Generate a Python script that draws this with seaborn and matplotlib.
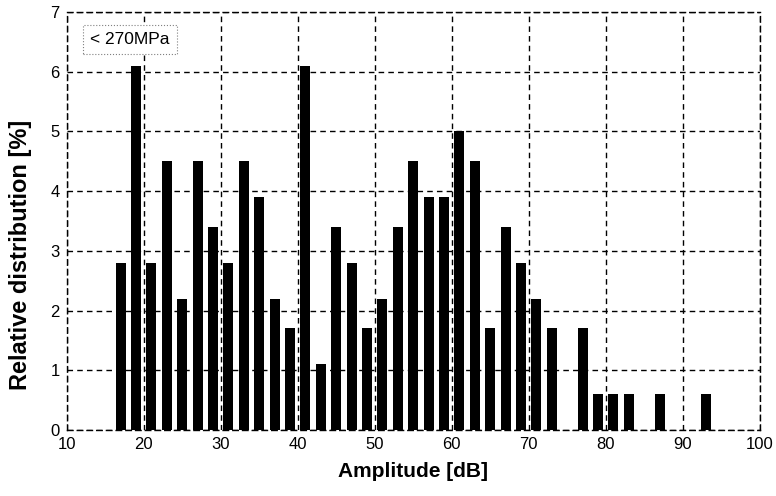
import matplotlib
matplotlib.use("Agg")
import matplotlib.pyplot as plt
import seaborn as sns
import pandas as pd

# amplitude bins [dB] and relative distribution [%]
amplitude = [17, 19, 21, 23, 25, 27, 29, 31, 33, 35, 37, 39, 41, 43, 45, 47, 49,
             51, 53, 55, 57, 59, 61, 63, 65, 67, 69, 71, 73, 75, 77, 79, 81, 83,
             85, 87, 89, 91, 93]
distribution = [2.8, 6.1, 2.8, 4.5, 2.2, 4.5, 3.4, 2.8, 4.5, 3.9, 2.2, 1.7, 6.1,
                1.1, 3.4, 2.8, 1.7, 2.2, 3.4, 4.5, 3.9, 3.9, 5.0, 4.5, 1.7, 3.4,
                2.8, 2.2, 1.7, 0.0, 1.7, 0.6, 0.6, 0.6, 0.0, 0.6, 0.0, 0.0, 0.6]
x_ticks = [10, 20, 30, 40, 50, 60, 70, 80, 90, 100]
y_ticks = [0, 1, 2, 3, 4, 5, 6, 7]
label_text = "< 270MPa"

df = pd.DataFrame({"amp": amplitude, "dist": distribution})

sns.set_style("white")
plt.rcParams['font.family'] = ['Liberation Sans', 'DejaVu Sans']
plt.rcParams['text.color'] = 'black'
plt.rcParams['axes.labelcolor'] = 'black'

fig = plt.figure(figsize=(7.76, 4.96), dpi=100)
ax = fig.add_axes([0.086, 0.133, 0.893, 0.843])

sns.barplot(data=df, x="amp", y="dist", native_scale=True, width=0.65,
            color="black", saturation=1, edgecolor="black", linewidth=0, ax=ax)

ax.set_xlim(10, 100)
ax.set_ylim(0, 7)
ax.set_xticks(x_ticks)
ax.set_yticks(y_ticks)
ax.tick_params(axis="both", direction="in", length=3, labelsize=12, colors="black", pad=5)

ax.grid(True, color="black", linestyle=(0, (4, 3)), linewidth=1.0)
ax.set_axisbelow(True)
for side in ["top", "right", "left", "bottom"]:
    ax.spines[side].set_visible(True)
    ax.spines[side].set_color("black")
    ax.spines[side].set_linestyle((0, (4, 3)))
    ax.spines[side].set_linewidth(1.0)

ax.set_xlabel("Amplitude [dB]", fontsize=15, fontweight="bold", labelpad=7)
ax.set_ylabel("Relative distribution [%]", fontsize=17, fontweight="bold")
# the label sits a little below the centre of the axis in the original
ax.yaxis.set_label_coords(-0.05, 0.42)

ax.text(0.034, 0.935, label_text, transform=ax.transAxes, fontsize=12.5,
        va="center", ha="left", color="black",
        bbox=dict(boxstyle="square,pad=0.4", facecolor="white",
                  edgecolor="grey", linestyle=":", linewidth=0.8))

fig.savefig("out.png", dpi=100)
